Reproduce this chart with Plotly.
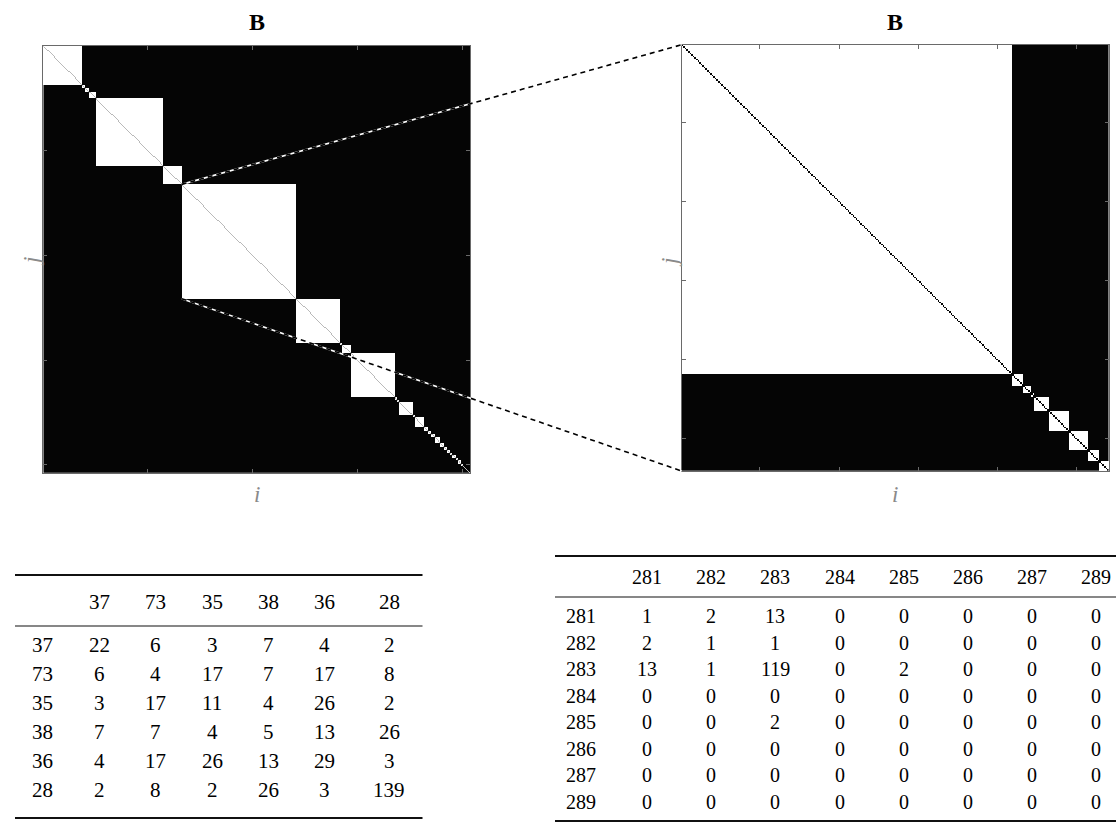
import numpy as np
import plotly.graph_objects as go

# ---------------------------------------------------------------- data
# cluster (block) sizes along the diagonal of the full co-membership matrix
full_blocks = [37, 3, 4, 6, 64, 18, 109, 42, 2, 8, 42, 2, 2, 13, 2, 9, 4, 3, 3,
               5, 4, 3, 3, 2, 3, 2, 3, 2, 1, 1, 1, 1, 1, 1, 1]
full_ticks = [100, 200, 300, 400]
highlight_block = 6          # index of the block that is expanded on the right

# sub-cluster sizes inside the expanded block
sub_blocks = [209, 7, 5, 2, 9, 13, 12, 7, 6]
sub_ticks = [50, 100, 150, 200, 250]

# contingency tables
left_labels = [37, 73, 35, 38, 36, 28]
left_counts = [
    [22, 6, 3, 7, 4, 2],
    [6, 4, 17, 7, 17, 8],
    [3, 17, 11, 4, 26, 2],
    [7, 7, 4, 5, 13, 26],
    [4, 17, 26, 13, 29, 3],
    [2, 8, 2, 26, 3, 139],
]
right_labels = [281, 282, 283, 284, 285, 286, 287, 289]
right_counts = [
    [1, 2, 13, 0, 0, 0, 0, 0],
    [2, 1, 1, 0, 0, 0, 0, 0],
    [13, 1, 119, 0, 2, 0, 0, 0],
    [0, 0, 0, 0, 0, 0, 0, 0],
    [0, 0, 2, 0, 0, 0, 0, 0],
    [0, 0, 0, 0, 0, 0, 0, 0],
    [0, 0, 0, 0, 0, 0, 0, 0],
    [0, 0, 0, 0, 0, 0, 0, 0],
]

# ---------------------------------------------------------------- helpers
W, H = 1116, 827
SERIF = "Liberation Serif"


def block_matrix(sizes, diag_shade):
    n = sum(sizes)
    m = np.zeros((n, n))
    start = 0
    for s in sizes:
        m[start:start + s, start:start + s] = 1.0
        start += s
    np.fill_diagonal(m, diag_shade)
    return m


def px(x):
    return x / W


def py(y):
    return 1 - y / H


# self-pairs: light gray in the overview, black in the close-up
B_full = block_matrix(full_blocks, 0.72)
B_sub = block_matrix(sub_blocks, 0.0)
N_full = B_full.shape[0]
N_sub = B_sub.shape[0]

dom_l_x = [px(43.3), px(470.0)]
dom_l_y = [py(472.7), py(46.0)]
dom_r_x = [px(681.7), px(1108.7)]
dom_r_y = [py(471.0), py(44.7)]

gray = [[0, "#050505"], [1, "#ffffff"]]

fig = go.Figure()
fig.add_trace(go.Heatmap(z=B_full, x=np.arange(1, N_full + 1), y=np.arange(1, N_full + 1),
                         colorscale=gray, zmin=0, zmax=1, showscale=False,
                         xaxis="x", yaxis="y", hoverinfo="skip"))
fig.add_trace(go.Heatmap(z=B_sub, x=np.arange(1, N_sub + 1), y=np.arange(1, N_sub + 1),
                         colorscale=gray, zmin=0, zmax=1, showscale=False,
                         xaxis="x2", yaxis="y2", hoverinfo="skip"))

axis_style = dict(showline=True, linecolor="#6a6a6a", linewidth=1, mirror="ticks",
                  ticks="inside", ticklen=4, tickcolor="#6a6a6a", tickwidth=1,
                  showticklabels=False, showgrid=False, zeroline=False)

fig.update_layout(
    width=W, height=H,
    margin=dict(l=0, r=0, t=0, b=0),
    paper_bgcolor="white", plot_bgcolor="white",
    showlegend=False,
    xaxis=dict(domain=dom_l_x, range=[0.5, N_full + 0.5], tickvals=full_ticks,
               anchor="y", **axis_style),
    yaxis=dict(domain=dom_l_y, range=[N_full + 0.5, 0.5], tickvals=full_ticks,
               anchor="x", **axis_style),
    xaxis2=dict(domain=dom_r_x, range=[0.5, N_sub + 0.5], tickvals=sub_ticks,
                anchor="y2", **axis_style),
    yaxis2=dict(domain=dom_r_y, range=[N_sub + 0.5, 0.5], tickvals=sub_ticks,
                anchor="x2", **axis_style),
)


# data coordinate -> paper coordinate
def to_paper(v, n, dom, flip=False):
    frac = (v - 0.5) / n
    if flip:
        frac = 1 - frac
    return dom[0] + frac * (dom[1] - dom[0])


# connector lines from the highlighted block to the expanded panel
start = sum(full_blocks[:highlight_block]) + 0.5
end = start + full_blocks[highlight_block]
links = [
    ((to_paper(start, N_full, dom_l_x), to_paper(start, N_full, dom_l_y, flip=True)),
     (to_paper(0.5, N_sub, dom_r_x), to_paper(0.5, N_sub, dom_r_y, flip=True))),
    ((to_paper(start, N_full, dom_l_x), to_paper(end, N_full, dom_l_y, flip=True)),
     (to_paper(0.5, N_sub, dom_r_x), to_paper(N_sub + 0.5, N_sub, dom_r_y, flip=True))),
]
shapes = []
for (x0, y0), (x1, y1) in links:
    shapes.append(dict(type="line", xref="paper", yref="paper", x0=x0, y0=y0, x1=x1, y1=y1,
                       line=dict(color="white", width=1.6), layer="above"))
    shapes.append(dict(type="line", xref="paper", yref="paper", x0=x0, y0=y0, x1=x1, y1=y1,
                       line=dict(color="black", width=1.6, dash="5px,4px"), layer="above"))

annotations = []


def label(x, y, text, size, color="black", angle=0):
    annotations.append(dict(x=px(x), y=py(y), xref="paper", yref="paper", text=text,
                            showarrow=False, xanchor="center", yanchor="middle",
                            textangle=angle,
                            font=dict(family=SERIF, size=size, color=color)))


# panel titles and axis labels
for xc in (256.5, 895.2):
    label(xc, 22, "<b>B</b>", 24)
    label(xc, 495, "<i>i</i>", 23, "#8a8a8a")
label(32, 262, "<i>j</i>", 23, "#8a8a8a", -90)
label(670, 262, "<i>j</i>", 23, "#8a8a8a", -90)


def add_table(labels, counts, x_label, x_cols, y_head, y_rows, rule_x, rules, size):
    for xc, lab in zip(x_cols, labels):
        label(xc, y_head, str(lab), size)
    for yr, lab, row in zip(y_rows, labels, counts):
        label(x_label, yr, str(lab), size)
        for xc, v in zip(x_cols, row):
            label(xc, yr, str(v), size)
    for yv, wv in rules:
        shapes.append(dict(type="line", xref="paper", yref="paper",
                           x0=px(rule_x[0]), x1=px(rule_x[1]), y0=py(yv), y1=py(yv),
                           line=dict(color="#111111", width=wv)))


add_table(left_labels, left_counts, 42,
          [99, 156, 212, 268, 324, 389], 602,
          [645 + 29 * k for k in range(6)], (15, 422.5),
          [(575, 2), (626, 1.2), (818, 2)], 21)
add_table(right_labels, right_counts, 581,
          [647 + 64.2 * k for k in range(8)], 577,
          [616 + 26.5 * k for k in range(8)], (555, 1116),
          [(556, 2), (597, 1.2), (821, 2)], 20)

fig.update_layout(shapes=shapes, annotations=annotations)
fig.write_html("out.html")
